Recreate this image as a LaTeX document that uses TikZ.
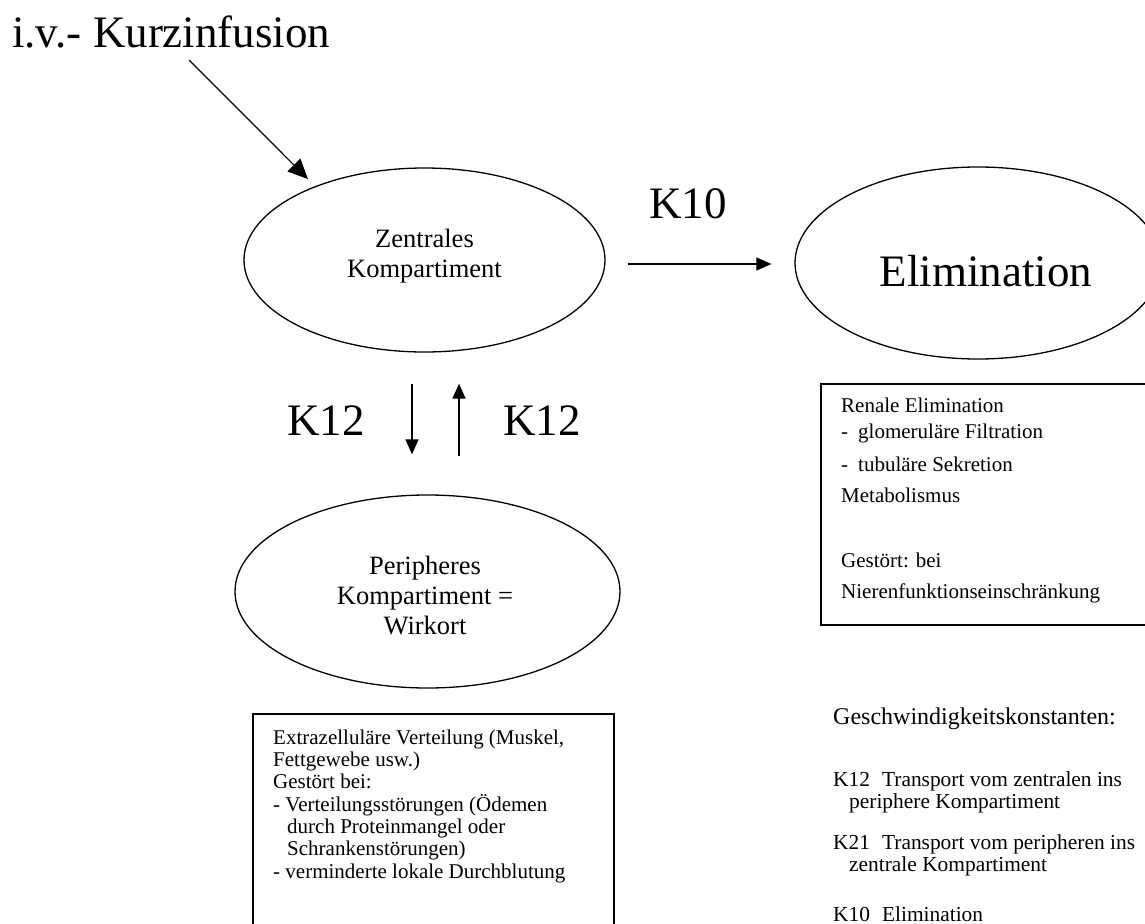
\documentclass[tikz,border=0pt]{standalone}
\usepackage{fontspec}
\setmainfont{Liberation Serif}
\usetikzlibrary{positioning}
\usetikzlibrary{calc}
\usetikzlibrary{arrows.meta,shapes.geometric}

\begin{document}
\begin{tikzpicture}[x=1pt,y=-1pt]
\tikzstyle{compartment} =[ellipse,draw=black,line width=1.3pt,inner sep=0pt]
\tikzstyle{infobox} =[rectangle,draw=black,line width=1.6pt,inner sep=0pt,anchor=north west]
\tikzstyle{bigtext} =[inner sep=0pt,anchor=base west,font=\fontsize{45}{54}\selectfont]
\tikzstyle{midtext} =[inner sep=0pt,align=center,anchor=base,font=\fontsize{26.5}{30}\selectfont]
\tikzstyle{boxtext} =[inner sep=0pt,align=left,anchor=base west,font=\fontsize{21}{22.3}\selectfont]
\tikzstyle{rate} =[draw,line width=1.2pt,-{Triangle[length=15pt,width=13pt]}]
\tikzstyle{infarrow} =[draw,line width=1.2pt,-{Triangle[length=20pt,width=18pt]}]
\useasboundingbox (0,0) rectangle (1145,923);

\node[bigtext](infusion) at (12,48) {i.v.- Kurzinfusion};
\coordinate (infstart) at (189,60);

\node[compartment,minimum width=361pt,minimum height=184pt](central) at (424.5,260){};
\node[midtext](centraltext) at (424.5,277){Zentrales\\Kompartiment};

\node[compartment,minimum width=366pt,minimum height=192pt](elim) at (978,263){};
\node[bigtext,anchor=base](elimtext) at (986,286){Elimination};

\node[compartment,minimum width=385pt,minimum height=193pt](periph) at (427.5,591.5){};
\node[midtext](periphtext) at (425,634){Peripheres\\Kompartiment =\\Wirkort};

\draw[infarrow,shorten >=10pt] (infstart)--(central.146);

\node[bigtext](k10) at (649,218){K10};
\draw[rate] ([xshift=22pt,yshift=-4pt]central.east)--([xshift=-23pt,yshift=-1pt]elim.west);

\node[bigtext](k12down) at (287,435){K12};
\node[bigtext](k12up) at (503,435){K12};
\draw[rate,shorten <=31pt,shorten >=40pt] ([xshift=-12.5pt]central.south)--([xshift=-15.5pt]periph.north);
\draw[rate,shorten <=38pt,shorten >=31pt] ([xshift=31.5pt]periph.north)--([xshift=34.5pt]central.south);

\node[infobox,minimum width=326pt,minimum height=241pt](renalbox) at (820,383){};
\node[boxtext,font=\fontsize{21}{26}\selectfont](renaltext) at (841,598){Renale Elimination\\
-\hspace{10pt}glomeruläre Filtration\\[7pt]
-\hspace{10pt}tubuläre Sekretion\\[5pt]
Metabolismus\\[39pt]
Gestört: bei\\[5pt]
Nierenfunktionseinschränkung};

\node[infobox,minimum width=361pt,minimum height=240pt](extrabox) at (252,713){};
\node[boxtext](extratext) at (273,878){Extrazelluläre Verteilung (Muskel,\\
Fettgewebe usw.)\\
Gestört bei:\\
- Verteilungsstörungen (Ödemen\\
\hspace*{14pt}durch Proteinmangel oder\\
\hspace*{14pt}Schrankenstörungen)\\
- verminderte lokale Durchblutung};

\node[boxtext,font=\fontsize{24}{28}\selectfont](ratehead) at (833,724){Geschwindigkeitskonstanten:};
\node[boxtext,font=\fontsize{21.4}{22}\selectfont](ratelist) at (833,921){K12\hspace{12pt}Transport vom zentralen ins\\
\hspace*{16pt}periphere Kompartiment\\[19pt]
K21\hspace{12pt}Transport vom peripheren ins\\
\hspace*{16pt}zentrale Kompartiment\\[28pt]
K10\hspace{12pt}Elimination};
\end{tikzpicture}
\end{document}
